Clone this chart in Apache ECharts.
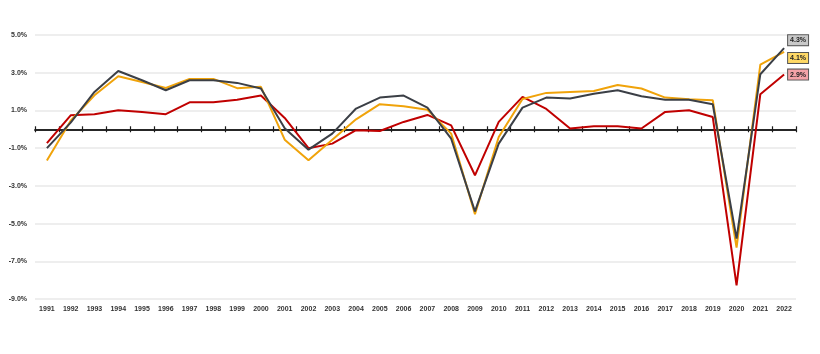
<!DOCTYPE html>
<html>
<head>
<meta charset="utf-8">
<script src="https://cdn.jsdelivr.net/npm/echarts@6/dist/echarts.min.js"></script>
<style>
html,body{margin:0;padding:0;background:#fff;}
#chart{width:820px;height:354px;}
</style>
</head>
<body>
<div id="chart"></div>
<script>
var years = ['1991','1992','1993','1994','1995','1996','1997','1998','1999','2000','2001','2002','2003','2004','2005','2006','2007','2008','2009','2010','2011','2012','2013','2014','2015','2016','2017','2018','2019','2020','2021','2022'];
var darkSeries = [-1.0, 0.35, 1.98, 3.09, 2.6, 2.07, 2.6, 2.6, 2.46, 2.16, 0.05, -1.08, -0.23, 1.10, 1.68, 1.79, 1.15, -0.5, -4.35, -0.76, 1.15, 1.68, 1.63, 1.89, 2.07, 1.75, 1.57, 1.57, 1.33, -5.8, 2.92, 4.3];
var orangeSeries = [-1.66, 0.45, 1.8, 2.81, 2.51, 2.19, 2.67, 2.67, 2.18, 2.25, -0.55, -1.64, -0.55, 0.53, 1.33, 1.22, 1.04, -0.23, -4.5, -0.41, 1.61, 1.93, 1.98, 2.03, 2.35, 2.16, 1.68, 1.59, 1.54, -6.28, 3.43, 4.1];
var redSeries = [-0.73, 0.74, 0.80, 1.01, 0.92, 0.80, 1.43, 1.43, 1.57, 1.79, 0.6, -1.0, -0.76, -0.05, -0.09, 0.39, 0.76, 0.21, -2.44, 0.39, 1.72, 1.08, 0.04, 0.16, 0.16, 0.04, 0.92, 1.01, 0.65, -8.28, 1.86, 2.9];
var yTicks = { min: -9, max: 5, interval: 2 };

var chart = echarts.init(document.getElementById('chart'), null, { renderer: 'canvas' });
var fontFam = 'Liberation Sans, Arial, sans-serif';

function endLab(bg, dy) {
  return {
    show: true,
    formatter: function (p) { return p.value.toFixed(1) + '%'; },
    backgroundColor: bg,
    borderColor: '#555',
    borderWidth: 1,
    padding: [2, 2, 1, 2],
    fontSize: 7,
    fontWeight: 'bold',
    fontFamily: fontFam,
    color: '#222',
    distance: 4,
    offset: [0, dy]
  };
}

var gridBox = { left: 35, right: 24, top: 35, bottom: 55, containLabel: false };
var zeroLine = { show: true, onZero: true, lineStyle: { color: '#1a1a1a', width: 1.5 } };
var zeroTick = { show: true, length: 3, interval: 0, lineStyle: { color: '#1a1a1a', width: 1.2 } };

chart.setOption({
  animation: false,
  grid: [gridBox, gridBox],
  xAxis: [
    {
      gridIndex: 0, type: 'category', data: years, position: 'bottom', boundaryGap: true,
      axisLine: { show: false, onZero: false }, axisTick: { show: false },
      axisLabel: { interval: 0, fontSize: 7, fontWeight: 'bold', fontFamily: fontFam, color: '#333', margin: 7 },
      splitLine: { show: false }
    },
    {
      gridIndex: 0, type: 'category', data: years, position: 'top', boundaryGap: true,
      axisLine: zeroLine, axisTick: zeroTick,
      axisLabel: { show: false }, splitLine: { show: false }
    },
    {
      gridIndex: 1, type: 'category', data: years, position: 'bottom', boundaryGap: true,
      axisLine: zeroLine, axisTick: zeroTick,
      axisLabel: { show: false }, splitLine: { show: false }
    }
  ],
  yAxis: [
    {
      gridIndex: 0, type: 'value', min: yTicks.min, max: yTicks.max, interval: yTicks.interval,
      axisLine: { show: false }, axisTick: { show: false },
      axisLabel: {
        formatter: function (v) { return v.toFixed(1) + '%'; },
        fontSize: 7, fontWeight: 'bold', fontFamily: fontFam, color: '#333', margin: 8
      },
      splitLine: { lineStyle: { color: '#e8e8e8', width: 1.5 } }
    },
    {
      gridIndex: 1, type: 'value', min: yTicks.min, max: yTicks.max, interval: yTicks.interval,
      axisLine: { show: false }, axisTick: { show: false }, axisLabel: { show: false },
      splitLine: { show: false }
    }
  ],
  series: [
    {
      name: 'Red', type: 'line', data: redSeries, symbol: 'none', z: 3,
      lineStyle: { color: '#c00000', width: 2 }, itemStyle: { color: '#c00000' },
      endLabel: endLab('#f4a3a8', 0)
    },
    {
      name: 'Orange', type: 'line', data: orangeSeries, symbol: 'none', z: 4,
      lineStyle: { color: '#f0a30a', width: 2 }, itemStyle: { color: '#f0a30a' },
      endLabel: endLab('#ffd966', 6)
    },
    {
      name: 'Dark', type: 'line', data: darkSeries, symbol: 'none', z: 5,
      lineStyle: { color: '#3b3f46', width: 2 }, itemStyle: { color: '#3b3f46' },
      endLabel: endLab('#c8c8c8', -8)
    }
  ]
});
</script>
</body>
</html>
